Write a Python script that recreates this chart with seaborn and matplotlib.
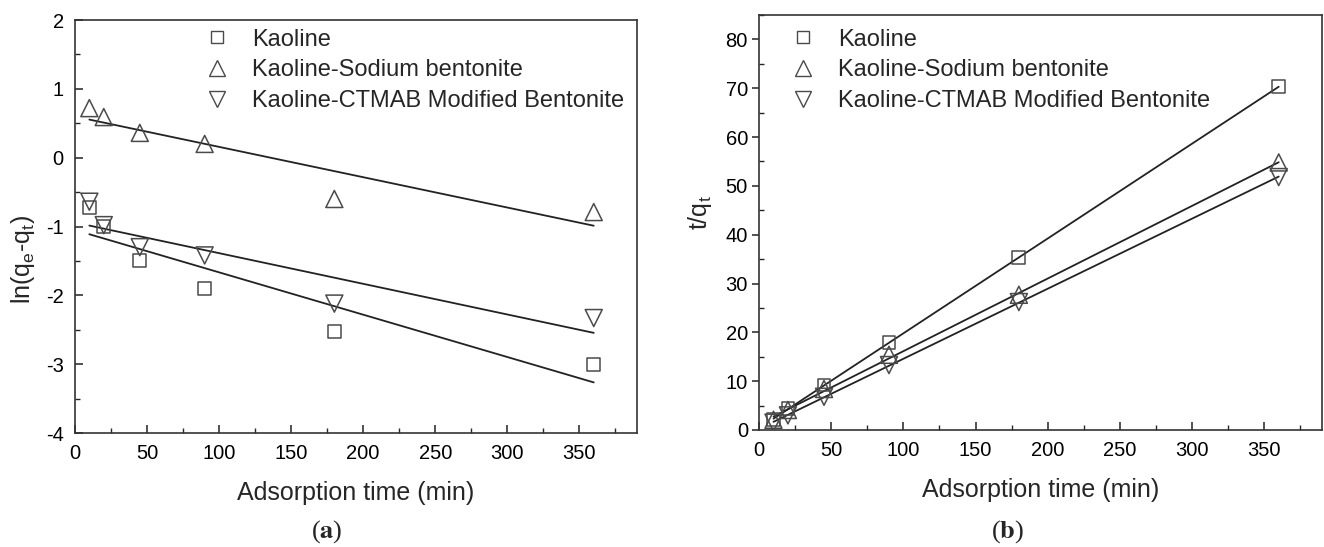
import numpy as np
import matplotlib
matplotlib.use('Agg')
import matplotlib.pyplot as plt
from matplotlib.lines import Line2D
from matplotlib.ticker import MultipleLocator
import seaborn as sns

# 数据：吸附时间与两种动力学模型的线性化数值
time = [10, 20, 45, 90, 180, 360]
names = ['Kaoline', 'Kaoline-Sodium bentonite', 'Kaoline-CTMAB Modified Bentonite']
markers = ['s', '^', 'v']
msizes = [85, 150, 150]

# (a) 准一级动力学 ln(qe-qt)
ln_kaoline = [-0.72, -1.0, -1.49, -1.9, -2.52, -3.01]
ln_sodium = [0.72, 0.59, 0.36, 0.2, -0.6, -0.79]
ln_ctmab = [-0.64, -0.98, -1.3, -1.42, -2.12, -2.33]

# (b) 准二级动力学 t/qt
tq_kaoline = [2.1, 4.4, 9.2, 17.9, 35.3, 70.3]
tq_sodium = [2.1, 4.1, 8.4, 15.4, 27.7, 54.8]
tq_ctmab = [1.5, 3.0, 6.8, 13.3, 26.2, 51.8]

sns.set_style('ticks')
plt.rcParams['font.family'] = ['Liberation Sans', 'DejaVu Sans']
plt.rcParams['mathtext.fontset'] = 'custom'
plt.rcParams['mathtext.rm'] = 'Liberation Sans'
plt.rcParams['axes.unicode_minus'] = False

edge = '#4a4a4a'
line_c = '#222222'

fig = plt.figure(figsize=(13.24, 5.47), dpi=100)
ax1 = fig.add_axes([0.0566, 0.2084, 0.4245, 0.755])
ax2 = fig.add_axes([0.5733, 0.2139, 0.4252, 0.7587])


def draw(ax, ys):
    for y, m, s in zip(ys, markers, msizes):
        sns.regplot(x=time, y=y, ax=ax, scatter=False, ci=None, truncate=True,
                    line_kws=dict(color=line_c, lw=1.3))
        sns.scatterplot(x=time, y=y, ax=ax, marker=m, s=s, facecolors='none',
                        edgecolor=edge, linewidth=1.1, zorder=3)
    for sp in ax.spines.values():
        sp.set_visible(True)
        sp.set_color('#333333')
        sp.set_linewidth(1.2)
    ax.set_xlim(0, 390)
    ax.xaxis.set_major_locator(MultipleLocator(50))
    ax.xaxis.set_minor_locator(MultipleLocator(25))
    ax.tick_params(axis='both', labelsize=14.5, colors='#222222', labelcolor='black')
    ax.set_xlabel('Adsorption time (min)', fontsize=18, labelpad=13)
    handles = [Line2D([], [], ls='none', marker=m, ms=9 if m == 's' else 11,
                      mfc='none', mec=edge, mew=1.0) for m in markers]
    return handles


h = draw(ax1, [ln_kaoline, ln_sodium, ln_ctmab])
ax1.set_ylim(-4, 2)
ax1.yaxis.set_major_locator(MultipleLocator(1))
ax1.yaxis.set_minor_locator(MultipleLocator(0.5))
ax1.tick_params(which='both', direction='in')
ax1.tick_params(which='major', length=6, width=1.1, pad=8)
ax1.tick_params(which='minor', length=3.5, width=1.0)
ax1.set_ylabel(r'ln(q$_\mathregular{e}$-q$_\mathregular{t}$)', fontsize=18)
ax1.yaxis.set_label_coords(-0.067, 0.42)
ax1.legend(h, names, loc='upper left', bbox_to_anchor=(0.231, 0.979), frameon=False,
           fontsize=17, handlelength=1.0, handletextpad=1.0, labelspacing=0.37,
           borderpad=0, borderaxespad=0)

h = draw(ax2, [tq_kaoline, tq_sodium, tq_ctmab])
ax2.set_ylim(0, 85)
ax2.yaxis.set_major_locator(MultipleLocator(10))
ax2.yaxis.set_minor_locator(MultipleLocator(5))
ax2.tick_params(axis='x', which='both', direction='in')
ax2.tick_params(axis='x', which='major', length=6, width=1.1, pad=8)
ax2.tick_params(axis='x', which='minor', length=3.5, width=1.0)
ax2.tick_params(axis='y', which='major', direction='out', length=5, width=1.1, pad=3)
ax2.tick_params(axis='y', which='minor', direction='in', length=3.5, width=1.0)
ax2.set_ylabel(r't/q$_\mathregular{t}$', fontsize=18)
ax2.yaxis.set_label_coords(-0.08, 0.523)
ax2.legend(h, names, loc='upper left', bbox_to_anchor=(0.057, 0.967), frameon=False,
           fontsize=17, handlelength=1.0, handletextpad=1.0, labelspacing=0.37,
           borderpad=0, borderaxespad=0)

# 子图编号
fig.text(327 / 1324, 1 - 532 / 547, r'($\mathbf{a}$)', ha='center', va='center',
         fontsize=19, family=['Liberation Serif', 'DejaVu Serif'],
         math_fontfamily='stix')
fig.text(1008 / 1324, 1 - 532 / 547, r'($\mathbf{b}$)', ha='center', va='center',
         fontsize=19, family=['Liberation Serif', 'DejaVu Serif'],
         math_fontfamily='stix')

fig.savefig('out.png', dpi=100)
